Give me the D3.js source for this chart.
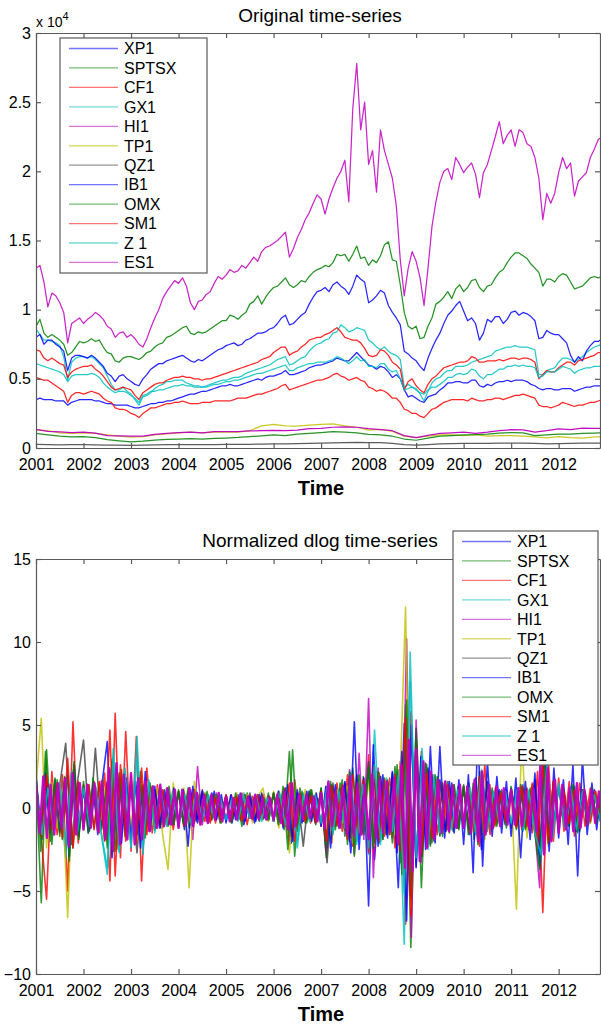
<!DOCTYPE html>
<html>
<head>
<meta charset="utf-8">
<script src="https://cdn.jsdelivr.net/npm/d3@7"></script>
<style>
  body { margin: 0; background: #fff; }
  svg text { font-family: "Liberation Sans", Arial, Helvetica, sans-serif; fill: #000; }
</style>
</head>
<body>
<div id="chart"></div>
<script>
// series names and colours (MATLAB colour order, cycling)
const seriesNames = ["XP1", "SPTSX", "CF1", "GX1", "HI1", "TP1", "QZ1", "IB1", "OMX", "SM1", "Z 1", "ES1"];
const seriesColors = ["#0000ff", "#008000", "#ff0000", "#00bfbf", "#bf00bf", "#bfbf00", "#404040",
                      "#0000ff", "#008000", "#ff0000", "#00bfbf", "#bf00bf"];
const yearTicks = [2001, 2002, 2003, 2004, 2005, 2006, 2007, 2008, 2009, 2010, 2011, 2012];
const levelTicks = [0, 5000, 10000, 15000, 20000, 25000, 30000];
const dlogTicks = [-10, -5, 0, 5, 10, 15];

// ---- original levels (monthly from Jan 2001, or quarterly) ----
const levelXP1 = [
  3500, 3600, 3500, 3500, 3500, 3400, 3400, 3400, 3100, 3300, 3400, 3500,
  3500, 3500, 3500, 3400, 3400, 3300, 3200, 3200, 3100, 3100, 3100, 3100,
  3000, 2900, 2900, 3000, 3100, 3200, 3200, 3300, 3300, 3400, 3400, 3500,
  3600, 3700, 3800, 3900, 3900, 4000, 4100, 4100, 4200, 4300, 4400, 4500,
  4500, 4600, 4500, 4500, 4600, 4700, 4800, 4900, 5000, 4900, 5100, 5200,
  5200, 5300, 5400, 5600, 5300, 5300, 5400, 5500, 5600, 5800, 5900, 6000,
  6000, 6100, 6200, 6300, 6500, 6400, 6300, 6300, 6600, 6900, 6600, 6300,
  6000, 5900, 5700, 5900, 5800, 5500, 5100, 5300, 5000, 4200, 3700, 3800,
  3600, 3400, 3300, 3700, 3800, 3900, 4200, 4400, 4700, 4700, 4800, 4800,
  4700, 4700, 4900, 4900, 4500, 4400, 4600, 4500, 4700, 4800, 4800, 4900,
  4800, 4900, 4900, 4900, 4800, 4600, 4500, 4300, 4200, 4300, 4300, 4200,
  4200, 4300, 4300, 4300, 4100, 4200, 4300, 4400, 4400, 4500, 4500, 4500];
const levelSPTSX = [
  8800, 9300, 8300, 8000, 8200, 8000, 7800, 7500, 6700, 6900, 7300, 7700,
  7600, 7700, 7900, 7700, 7800, 7300, 6900, 6800, 6300, 6200, 6500, 6600,
  6600, 6500, 6400, 6600, 6900, 7000, 7300, 7500, 7600, 8000, 8100, 8300,
  8500, 8700, 8800, 8300, 8200, 8400, 8300, 8400, 8600, 8800, 9000, 9200,
  9200, 9600, 9500, 9300, 9600, 9800, 10400, 10600, 11000, 10400, 10900, 11300,
  11600, 11700, 12000, 12300, 11800, 11600, 11800, 12100, 12000, 12400, 12700, 12900,
  13000, 13200, 13100, 13400, 14000, 13900, 14000, 13500, 14000, 14600, 13700, 13800,
  13200, 13600, 13400, 13900, 14700, 14900, 13600, 13500, 11800, 9800, 8800, 8600,
  8800, 7900, 8000, 8800, 9400, 10400, 10600, 10900, 11300, 10800, 11500, 11800,
  11300, 11600, 12100, 12200, 11600, 11300, 11700, 11800, 12300, 12700, 12900, 13400,
  13800, 14100, 14100, 13900, 13700, 13300, 13000, 12700, 11700, 12200, 12200, 12000,
  12400, 12600, 12500, 12000, 11500, 11600, 11700, 12000, 12300, 12400, 12300, 12400];
const levelCF1 = [
  5100, 5000, 4900, 4900, 4700, 4500, 4300, 4100, 3300, 3800, 4000, 4000,
  3900, 4000, 4100, 4000, 3900, 3600, 3400, 3300, 2900, 2800, 2800, 2700,
  2500, 2400, 2200, 2500, 2700, 2900, 2900, 3000, 3100, 3200, 3200, 3300,
  3300, 3400, 3300, 3200, 3200, 3200, 3300, 3300, 3300, 3400, 3400, 3400,
  3400, 3400, 3500, 3600, 3600, 3600, 3700, 3800, 3900, 3900, 4000, 4100,
  4200, 4300, 4500, 4600, 4200, 4300, 4400, 4500, 4600, 4700, 4800, 4900,
  4900, 5000, 5100, 5300, 5400, 5200, 5100, 4900, 5000, 5100, 4900, 4800,
  4400, 4300, 4100, 4200, 4100, 3900, 3600, 3600, 3300, 2800, 2700, 2500,
  2500, 2300, 2200, 2500, 2800, 2900, 3100, 3300, 3400, 3500, 3500, 3500,
  3500, 3400, 3600, 3500, 3400, 3400, 3500, 3500, 3600, 3600, 3500, 3600,
  3700, 3800, 3800, 3900, 3800, 3700, 3600, 3100, 3000, 3000, 2900, 3000,
  3100, 3300, 3200, 3100, 3000, 3100, 3100, 3200, 3300, 3300, 3400, 3500];
const levelGX1 = [
  8600, 8200, 7800, 7800, 7700, 7600, 7400, 6600, 4900, 6200, 6500, 6600,
  6600, 6500, 6600, 6400, 6100, 5800, 5200, 4600, 4200, 4200, 4400, 4100,
  3900, 3500, 3100, 3700, 3800, 4000, 4300, 4500, 4600, 4800, 4800, 4900,
  4900, 4900, 4700, 4600, 4500, 4500, 4400, 4500, 4600, 4700, 4800, 4900,
  4900, 5000, 5100, 5100, 5200, 5400, 5500, 5600, 5700, 5800, 5900, 6000,
  6200, 6400, 6500, 6600, 6000, 6100, 6300, 6500, 6600, 7000, 7300, 7500,
  7600, 7800, 7900, 8300, 8400, 8900, 8700, 8400, 8500, 8700, 8600, 8500,
  7800, 7600, 7300, 7100, 7300, 7000, 6800, 6700, 6400, 4400, 4600, 4400,
  4300, 3900, 3400, 4100, 4700, 5000, 5100, 5400, 5600, 5600, 5900, 5900,
  5900, 6000, 6200, 6300, 6400, 6500, 6600, 6700, 7000, 7100, 7200, 7300,
  7300, 7400, 7300, 7300, 7300, 7200, 7100, 5300, 5300, 5600, 5700, 5800,
  6200, 6500, 6500, 6400, 6200, 6400, 6600, 6900, 7100, 7300, 7400, 7500];
const levelHI1 = [
  13000, 13200, 12000, 10200, 11200, 11000, 10500, 9800, 7600, 9000, 9200, 9400,
  9000, 9300, 9500, 9800, 9600, 9300, 8800, 8600, 8000, 8300, 8400, 8000,
  8200, 7900, 7500, 7300, 7900, 8700, 9400, 10000, 10800, 11300, 11700, 12100,
  11900, 12300, 11700, 10500, 10000, 10600, 10700, 11100, 11300, 11900, 12400, 12200,
  12500, 12900, 12700, 12800, 13200, 13000, 13400, 13800, 13500, 14200, 14500, 14600,
  14800, 15000, 15300, 15600, 13800, 14400, 15200, 15800, 16500, 17000, 17700, 18300,
  18000, 16900, 18000, 18800, 19500, 20000, 20800, 17800, 24500, 27800, 23000, 25000,
  20500, 21500, 18500, 23000, 21500, 20500, 19500, 17500, 13600, 11000, 13000, 14200,
  13500, 12300, 10300, 13000, 16000, 17800, 19200, 20000, 20200, 19400, 21000, 20500,
  19900, 20300, 20600, 19800, 18100, 19900, 20500, 21500, 22500, 23600, 22000, 22600,
  23000, 21800, 23000, 22800, 22000, 21800, 21000, 19500, 16500, 18400, 17700, 18400,
  19900, 21000, 20200, 20600, 18200, 19300, 19600, 19900, 21000, 21600, 22300, 22500];
const levelTP1 = [
  1300, 1250, 1100, 1050, 1100, 1050, 950, 850, 780, 820, 950, 1020,
  1100, 1150, 1100, 1150, 1150, 1150, 1250, 1600, 1700, 1600, 1580, 1650,
  1700, 1750, 1600, 1500, 1300, 1350, 1200, 850, 750, 850, 950, 950,
  900, 960, 850, 900, 900, 850, 800, 740, 820, 750, 720, 800, 820];
const levelQZ1 = [
  270, 250, 230, 240, 240, 230, 210, 200, 190, 200, 220, 240,
  250, 250, 240, 250, 260, 260, 270, 280, 290, 290, 310, 330,
  350, 370, 380, 400, 390, 380, 340, 250, 200, 250, 300, 320,
  330, 330, 340, 360, 360, 350, 330, 300, 320, 340, 350, 360, 360];
const levelIB1 = [
  8000, 8200, 7500, 7800, 7800, 7500, 7300, 7000, 5600, 6500, 6700, 6700,
  6600, 6500, 6700, 6500, 6200, 5900, 5400, 5200, 4800, 5200, 5300, 5000,
  4800, 4600, 4500, 5000, 5300, 5700, 5900, 6100, 6100, 6300, 6400, 6500,
  6600, 6700, 6500, 6300, 6200, 6400, 6300, 6500, 6700, 6900, 7100, 7200,
  7400, 7500, 7600, 7400, 7500, 7800, 7900, 8100, 8300, 8300, 8400, 8600,
  8700, 9000, 9400, 9600, 8900, 9000, 9300, 9600, 9800, 10400, 10900, 11300,
  11400, 11600, 11300, 11800, 12000, 11700, 11500, 11100, 11700, 12500, 12200, 12000,
  10500, 10700, 11000, 11400, 11200, 10300, 9800, 9400, 8900, 7000, 6800, 6500,
  6300, 5900, 5600, 6500, 7200, 7800, 8300, 9000, 9600, 9900, 10300, 10600,
  9900, 9200, 9400, 9000, 7800, 8300, 9300, 9100, 9500, 9500, 9000, 9300,
  9800, 9900, 9600, 9800, 9700, 9500, 9200, 7900, 8000, 8500, 8300, 8200,
  8200, 7900, 7600, 6700, 6200, 6600, 6300, 7000, 7400, 7700, 7700, 7900];
const levelOMX = [
  1050, 950, 850, 800, 820, 750, 600, 520, 450, 500, 570, 620,
  650, 670, 640, 690, 720, 760, 820, 880, 950, 900, 1000, 1060,
  1120, 1180, 1150, 1100, 980, 950, 850, 650, 560, 720, 850, 900,
  950, 960, 1000, 1080, 1120, 1100, 900, 950, 1000, 1000, 1050, 1080, 1090];
const levelSM1 = [
  7100, 7000, 6500, 6300, 6500, 6300, 6100, 6000, 5100, 5500, 5700, 5800,
  5900, 5900, 6000, 5700, 5500, 5200, 4800, 4400, 4200, 4300, 4400, 4300,
  4200, 3800, 3500, 4000, 4200, 4400, 4600, 4700, 4700, 4900, 5000, 5100,
  5100, 5200, 5100, 5100, 5000, 5000, 4900, 5000, 5000, 5100, 5200, 5300,
  5400, 5500, 5600, 5700, 5800, 5900, 6000, 6100, 6200, 6400, 6500, 6600,
  6900, 7100, 7300, 7300, 6700, 6900, 7000, 7300, 7500, 7800, 7900, 8000,
  8000, 8200, 8300, 8500, 8700, 8400, 8000, 7900, 7800, 7800, 7600, 7200,
  6700, 6600, 6700, 7100, 7000, 6700, 6200, 6000, 5700, 4200, 4800, 5000,
  4500, 4200, 4000, 4600, 5000, 5200, 5500, 5800, 5900, 6000, 6100, 6200,
  6200, 6300, 6600, 6500, 6200, 6200, 6300, 6300, 6300, 6400, 6300, 6400,
  6500, 6500, 6400, 6500, 6500, 6400, 6200, 5000, 5300, 5600, 5500, 5500,
  5800, 6000, 6200, 6200, 6000, 6300, 6400, 6500, 6600, 6700, 6900, 6900];
const levelZ1 = [
  6100, 6000, 5900, 5800, 5700, 5600, 5500, 5300, 4800, 5200, 5300, 5300,
  5300, 5300, 5400, 5300, 5100, 4700, 4400, 4200, 4000, 4100, 4100, 4000,
  3800, 3600, 3300, 3800, 3900, 4100, 4100, 4200, 4200, 4300, 4400, 4500,
  4500, 4600, 4500, 4500, 4400, 4400, 4400, 4400, 4500, 4600, 4600, 4700,
  4800, 4800, 4900, 4900, 5000, 5100, 5200, 5300, 5400, 5400, 5500, 5600,
  5700, 5800, 5900, 6000, 5600, 5600, 5800, 5900, 6000, 6100, 6100, 6200,
  6200, 6200, 6300, 6400, 6600, 6500, 6300, 6100, 6300, 6600, 6300, 6400,
  5900, 5900, 5800, 6100, 6100, 5700, 5500, 5600, 5000, 4200, 4300, 4400,
  4200, 4000, 3900, 4200, 4400, 4400, 4600, 4800, 5100, 5100, 5300, 5400,
  5300, 5400, 5700, 5600, 5200, 5000, 5300, 5300, 5500, 5700, 5700, 5900,
  5900, 6000, 5900, 6000, 5900, 5900, 5800, 5100, 5200, 5500, 5500, 5500,
  5700, 5900, 5800, 5700, 5400, 5600, 5700, 5800, 5800, 5900, 5900, 5900];
const levelES1 = [
  1340, 1200, 1160, 1120, 1140, 1080, 900, 880, 860, 860, 990, 1050,
  1120, 1140, 1100, 1180, 1190, 1180, 1230, 1250, 1280, 1260, 1300, 1400,
  1420, 1500, 1530, 1500, 1400, 1330, 1250, 900, 750, 920, 1050, 1100,
  1150, 1050, 1140, 1250, 1320, 1310, 1150, 1250, 1380, 1330, 1430, 1420, 1420];
const levelPerYear = [12, 12, 12, 12, 12, 4, 4, 12, 4, 12, 12, 4];

// ---- normalized dlog returns, one row per year ----
const dlogXP1 = [
  1.2, -1.5, 0.9, -1.1, 1.4, -2.6, 2.1, -1.3,
  1.0, -0.8, 1.3, -1.2, 1.6, -2.0, 1.4, -1.1,
  1.2, -1.6, 1.1, -0.9, 1.0, -1.2, 0.8, -1.0,
  0.9, -1.3, 1.1, -0.7, 0.8, -0.9, 1.0, -0.6,
  0.7, -0.9, 0.8, -1.0, 0.6, -0.8, 0.9, -0.7,
  0.8, -0.7, 1.2, -2.1, 0.9, -0.8, 1.0, -0.9,
  1.1, -2.4, 1.3, -1.0, 1.6, -2.7, 2.0, -1.5,
  2.3, -3.1, 1.9, -1.6, 2.2, -4.8, 5.1, -3.6,
  3.0, -2.6, 2.4, -1.8, 1.7, -1.4, 1.5, -1.2,
  1.3, -1.6, 1.8, -2.5, 1.6, -1.2, 1.1, -1.0,
  1.2, -1.0, 1.4, -1.3, 1.7, -3.2, 2.2, -1.5,
  1.3, -1.1, 1.2, -1.4, 1.0, -0.9, 1.1, -0.8];
const dlogSPTSX = [
  1.6, -5.7, 3.5, -2.2, 1.7, -1.9, 2.0, -2.4, 1.5,
  -1.3, 1.4, -1.2, 1.5, -1.9, 2.3, -2.6, 1.8, -1.5,
  1.6, -1.7, 1.3, -1.1, 1.2, -0.9, 1.0, -1.1, 0.8,
  -0.9, 1.0, -1.2, 0.8, -0.7, 0.9, -0.8, 0.7, -0.6,
  0.8, -0.9, 0.7, -1.1, 0.9, -0.6, 0.8, -0.7, 0.9,
  -0.8, 1.0, -1.3, 3.4, -2.9, 1.2, -0.9, 1.1, -1.0,
  1.2, -3.0, 1.4, -1.1, 1.7, -2.2, 2.4, -1.6, 1.9,
  -2.5, 2.0, -2.1, 1.8, -1.6, 2.5, -3.3, 6.2, -8.4,
  4.2, -4.8, 2.6, -2.1, 1.9, -1.7, 1.6, -1.4, 1.3,
  -1.2, 1.5, -1.9, 2.2, -1.4, 1.2, -1.1, 1.0, -0.9,
  1.1, -1.3, 1.0, -1.2, 1.4, -2.8, 3.3, -1.9, 1.5,
  -1.2, 1.0, -1.1, 1.3, -1.4, 1.0, -0.9, 0.8, -0.7];
const dlogCF1 = [
  1.5, -1.8, -5.5, 2.2, -1.6, 2.0, -5.0, 5.2, -2.1,
  1.4, -1.2, 1.6, -1.5, 2.1, -4.4, 5.7, -3.0, 4.6,
  -2.6, 4.3, -4.4, 2.4, -1.5, 1.4, -1.2, 1.1, -1.3,
  1.0, -1.1, 1.2, -0.9, 0.8, -0.8, 0.7, -0.9, 0.6,
  -0.7, 0.8, -0.6, 0.9, -1.0, 0.7, -0.6, 0.8, -0.7,
  0.9, -1.0, 1.2, -2.2, 1.7, -1.0, 0.8, -0.9, 0.8,
  -1.1, 1.3, -2.1, 1.5, -1.4, 2.0, -2.3, 1.7, -1.6,
  3.2, -2.9, 2.1, -1.7, 1.8, -2.4, 2.8, -7.0, 5.8,
  -3.5, 3.4, -2.2, 2.0, -1.6, 1.5, -1.3, 1.4, -1.2,
  1.3, -1.5, 1.2, -2.3, 2.6, -1.6, 1.2, -1.0, 1.1,
  -1.2, 1.0, -1.3, 1.2, -1.5, 2.2, -6.3, 3.1, -2.0,
  1.8, -1.4, 1.6, -1.7, 1.5, -1.1, 1.2, -0.9, 1.0];
const dlogGX1 = [
  1.8, -1.4, 1.6, -1.2, 1.3, -3.0, 2.2, -1.5,
  1.1, -1.3, 1.2, -1.6, -4.0, 3.6, -2.7, 2.4,
  -2.3, 4.3, -2.8, 1.7, -1.5, 1.2, -1.1, 1.0,
  -1.2, 0.9, -0.8, 1.0, -0.7, 0.8, -0.6, 0.7,
  -0.8, 0.6, -0.7, 0.9, -0.6, 0.7, -0.8, 0.6,
  -0.7, 0.9, -1.1, 1.3, -2.4, 0.9, -0.8, 0.7,
  -0.9, 1.2, -1.6, 1.1, -1.3, 2.1, -2.2, 1.5,
  -2.8, 4.7, -2.2, 1.8, -1.5, 2.3, -8.2, 9.4,
  -3.4, 3.6, -2.5, 2.0, -1.6, 1.4, -1.3, 1.2,
  -1.1, 1.3, -1.6, 1.9, -1.2, 1.0, -0.9, 1.1,
  -1.0, 1.2, -1.4, 1.1, -1.6, -3.3, 2.9, -1.8,
  1.5, -1.2, 1.3, -1.4, 1.1, -1.0, 0.9, -0.8];
const dlogHI1 = [
  1.6, -1.3, 1.4, -1.2, 1.1, -1.5, 1.3, -2.5, 1.9, -1.4,
  1.2, -1.0, 1.3, -1.1, 1.4, -1.6, 1.5, -1.3, 1.1, -1.2,
  1.4, -1.0, 1.2, -0.9, 1.3, -1.1, 1.0, -0.9, 0.8, -1.0,
  0.9, -0.8, 1.0, -1.9, 2.5, -1.0, 0.8, -0.7, 0.9, -0.6,
  0.7, -0.8, 0.6, -0.7, 0.8, -0.6, 0.7, -0.6, 0.8, -0.7,
  0.9, -0.8, 1.0, -1.4, 1.2, -0.9, 0.8, -0.7, 0.9, -0.8,
  1.0, -2.6, 1.4, -1.1, 1.2, -1.3, 2.3, -2.8, 3.3, -1.9,
  6.6, -4.2, 2.4, -1.9, 1.6, -1.8, 2.1, -3.2, 10.2, -7.8,
  5.3, -3.3, 2.7, -2.2, 1.8, -1.6, 1.5, -1.3, 1.4, -1.2,
  1.3, -1.1, 1.2, -1.9, 1.7, -1.2, 1.0, -0.9, 1.1, -1.0,
  0.9, -1.1, 1.4, -1.2, 1.0, -1.3, -4.8, 4.4, -2.1, 1.6,
  -1.2, 1.1, -1.0, 1.3, -1.4, 1.1, -0.9, 1.0, -0.8, 0.9];
const dlogTP1 = [
  1.3, 5.4, -2.4, 1.5, -1.2, 1.0, -6.6, 2.3, -1.5,
  1.2, -1.1, 1.4, -1.0, 1.1, -1.3, 1.2, -1.4, 1.0,
  -1.1, 1.3, -1.2, 1.4, -1.0, 1.2, -1.6, -3.7, 1.5,
  -1.1, 1.2, -4.8, 1.6, -1.0, 0.9, -0.8, 0.7, -0.9,
  0.8, -0.7, 0.9, -0.6, 0.8, -0.9, 0.7, 1.2, -0.8,
  1.0, -1.2, 0.9, -2.7, 1.4, -0.9, 1.1, -0.8, 0.9,
  -1.0, 1.2, -2.0, 1.1, -0.9, 1.3, -2.1, 1.6, -1.2,
  1.7, -2.3, 1.5, -1.4, 1.3, -1.6, 2.0, 12.1, -6.0,
  3.2, -2.4, 2.0, -1.5, 1.6, -1.3, 1.2, -1.1, 1.0,
  -0.9, 1.1, -1.0, 1.2, -1.9, 1.4, -1.1, 0.9, -1.0,
  1.1, -6.1, 4.2, -1.8, 1.3, -1.2, 1.5, -2.3, 1.6,
  -1.0, 1.1, -0.9, 1.0, -1.2, 0.8, -0.9, 1.0, -0.8];
const dlogQZ1 = [
  1.3, -1.9, 1.5, -1.2, 1.4, 3.9, -2.2, 1.6,
  4.1, -1.4, 3.6, -1.3, 1.5, -2.6, 2.1, -1.7,
  1.6, -2.7, 1.4, -1.2, 1.1, -1.0, 1.2, -0.9,
  1.0, -1.1, 0.9, -0.8, 1.1, -0.7, 0.8, -0.9,
  0.7, -0.8, 0.6, -0.7, 0.9, -0.6, 0.8, -0.7,
  0.9, -0.8, 1.1, -1.7, 0.9, -2.3, 1.0, -0.8,
  1.1, -3.3, 1.5, -1.2, 1.4, -1.8, 1.9, -1.4,
  2.8, -2.1, 1.9, -1.6, 1.7, -2.2, 3.1, -5.3,
  4.8, -2.9, 2.3, -2.0, 1.6, -1.4, 1.3, -1.2,
  1.1, -1.3, 1.0, -1.6, 1.5, -1.1, 1.0, -0.9,
  1.1, -1.0, 1.2, -1.1, 1.3, -2.4, 2.0, -1.3,
  1.2, -1.0, 0.9, -1.1, 1.0, -0.8, 0.9, -0.7];
const dlogIB1 = [
  1.8, -1.6, 2.1, -1.5, 1.7, -1.4, 1.6, -2.9, 2.6, -1.7,
  1.3, -1.5, 1.4, -1.6, 1.7, 4.0, -3.0, 2.4, -2.1, 1.8,
  -1.9, 1.6, -2.4, 2.2, -1.4, 1.3, -1.2, 1.1, -1.0, 1.2,
  -1.0, 1.1, -2.3, 1.3, -0.9, 1.0, -0.8, 0.9, -0.7, 0.8,
  -0.9, 0.8, -0.7, 0.9, -0.8, 0.7, -0.9, 0.8, -0.6, 0.7,
  -0.8, 1.0, -1.2, 1.4, -2.0, 1.1, -0.9, 1.0, -0.8, 0.9,
  -1.1, 1.3, -2.4, 1.4, -1.2, 1.5, -2.0, 5.2, -2.5, 1.8,
  -5.9, 3.8, -2.3, 2.0, -1.8, 2.1, -2.7, 3.4, -6.8, 5.0,
  -3.6, 3.1, -2.5, 3.7, -2.1, 3.7, -1.8, 1.6, -1.5, 1.7,
  -2.2, 2.0, -3.9, 4.6, -3.5, 2.8, -1.7, 1.9, -1.5, 1.6,
  -1.7, 1.8, -3.0, 1.6, -1.9, 2.1, -3.5, 3.8, -2.6, 2.4,
  -1.8, 1.7, -2.2, 2.6, -4.1, 3.0, -1.6, 1.5, -1.3, 1.2];
const dlogOMX = [
  2.2, -2.6, 3.4, -2.0, 1.8, -1.7, 1.9, -3.2, 2.8, -1.9,
  1.6, -1.5, 1.8, -1.4, 1.7, -2.4, 2.9, -2.5, 2.3, -1.8,
  1.9, -2.0, 2.2, -1.8, 1.5, -1.3, 1.2, -1.1, 1.3, -1.0,
  1.1, -0.9, 1.2, -1.1, 0.9, -0.8, 1.0, -0.7, 0.8, -0.9,
  0.7, -0.8, 0.9, -0.7, 0.8, -0.6, 0.7, -0.8, 0.6, -0.7,
  0.9, -1.0, 1.3, -2.5, 3.5, -1.4, 1.0, -0.9, 1.1, -0.8,
  1.2, -2.2, 1.6, -1.3, 1.5, -1.7, 2.2, -2.9, 2.0, -1.6,
  2.5, -2.4, 2.2, -1.9, 1.7, -2.1, 2.6, -4.0, 6.5, -5.5,
  4.2, -3.2, 2.7, -2.3, 2.0, -1.7, 1.6, -1.5, 1.4, -1.3,
  1.4, -1.6, 1.5, -2.2, 2.0, -1.4, 1.2, -1.1, 1.0, -1.2,
  1.3, -1.1, 1.4, -1.3, 1.2, -1.5, -3.7, 2.8, -2.0, 1.6,
  -1.3, 1.2, -1.1, 1.4, -1.5, 1.1, -1.0, 1.2, -0.9, 1.0];
const dlogSM1 = [
  1.4, -1.7, 2.0, -1.3, 1.5, -1.8, 3.0, -2.4, 1.6,
  -1.2, 1.4, -1.3, 1.6, -2.0, 4.7, -4.1, 2.6, -2.0,
  1.8, -2.1, 2.4, -1.6, 1.3, -1.2, 1.1, -1.0, 0.9,
  -1.0, 0.9, -0.8, 1.1, -0.7, 0.8, -0.9, 0.6, -0.7,
  0.8, -0.6, 0.7, -0.8, 0.6, -0.7, 0.8, -0.6, 0.7,
  -0.8, 0.9, -1.1, 1.5, -2.0, 0.9, -0.8, 0.7, -0.9,
  1.0, -2.0, 1.3, -1.0, 1.4, -1.9, 2.0, -1.6, 1.7,
  -2.7, 2.5, -2.0, 1.7, -1.6, 2.0, -2.6, 5.4, -6.5,
  3.6, -2.8, 2.1, -1.8, 1.5, -1.3, 1.4, -1.2, 1.1,
  -1.0, 1.2, -1.4, 1.9, -1.6, 1.1, -1.0, 0.9, -0.8,
  1.0, -1.2, 1.3, -1.1, 1.5, -2.3, 2.8, -2.1, 1.6,
  -1.2, 1.0, -0.9, 1.1, -1.2, 0.9, -0.8, 1.0, -0.7];
const dlogZ1 = [
  1.4, -1.6, 1.2, -1.3, 1.5, -2.1, 2.0, -1.4,
  1.2, -1.1, 1.3, -1.5, -3.6, 3.1, -2.6, 2.2,
  -2.4, 3.0, -2.2, 1.5, -1.3, 1.1, -1.0, 0.9,
  -1.0, 0.8, -0.9, 1.0, -0.7, 0.8, -0.6, 0.7,
  -0.7, 0.6, -0.8, 0.7, -0.6, 0.8, -0.7, 0.6,
  -0.8, 0.9, -1.0, 1.2, -2.0, 0.8, -0.7, 0.8,
  -0.9, 1.3, -1.5, 1.0, -1.2, 1.9, -2.0, 1.4,
  -2.4, 2.6, -2.0, 1.6, -1.4, 2.0, -5.2, 7.6,
  -3.0, 3.1, -2.2, 1.8, -1.5, 1.3, -1.2, 1.1,
  -1.0, 1.2, -1.5, 2.3, -1.3, 1.0, -0.9, 1.0,
  -0.9, 1.1, -1.3, 1.0, -1.5, -2.8, 2.6, -1.6,
  1.3, -1.1, 1.2, -1.3, 1.0, -0.9, 0.8, -0.7];
const dlogES1 = [
  1.7, -1.5, 1.9, -1.8, 1.4, -1.6, 1.5, -1.2, 1.8, -2.3, 2.1, -1.6, 1.5,
  -1.3, 1.4, -1.2, 1.5, -1.4, 1.6, -1.9, 2.4, -2.5, 2.7, -2.2, 2.0, -1.9,
  2.1, -2.2, 1.8, -1.9, 1.6, -1.4, 1.3, -1.2, 1.4, -1.1, 1.2, -1.0, 1.1,
  -1.2, 1.1, -1.0, 1.2, -1.1, 0.9, -1.0, 0.8, -0.9, 0.8, -0.7, 0.9, -0.8,
  0.7, -0.8, 0.6, -0.7, 0.8, -0.6, 0.7, -0.6, 0.8, -0.7, 0.6, -0.7, 0.6,
  -0.7, 0.8, -0.9, 1.0, -1.3, 1.5, -1.1, 0.8, -0.7, 0.8, -0.6, 0.7, -0.8,
  0.9, -1.2, 1.6, -1.1, 1.0, -1.2, 1.3, -1.6, 1.9, -1.7, 1.5, -1.6, 1.4,
  -1.9, 2.0, -1.8, 1.7, -1.5, 1.6, -1.4, 1.8, -2.1, 2.6, -3.6, 4.1, -3.8,
  3.5, -3.2, 2.8, -2.4, 2.2, -1.9, 1.7, -1.5, 1.6, -1.4, 1.3, -1.2, 1.4,
  -1.2, 1.3, -1.5, 1.7, -2.0, 2.2, -1.6, 1.4, -1.2, 1.3, -1.1, 1.2, -1.0,
  1.1, -1.0, 1.2, -1.1, 1.0, -1.3, 1.2, -1.4, 2.6, -2.8, 2.4, -2.0, 1.7,
  -1.5, 1.4, -1.3, 1.2, -1.4, 1.5, -1.2, 1.1, -1.0, 1.1, -0.9, 1.0, -0.9];
const dlogPerYear = [8, 9, 9, 8, 10, 9, 8, 10, 10, 9, 8, 13];

const levelData = [levelXP1, levelSPTSX, levelCF1, levelGX1, levelHI1, levelTP1,
                   levelQZ1, levelIB1, levelOMX, levelSM1, levelZ1, levelES1];
const dlogData = [dlogXP1, dlogSPTSX, dlogCF1, dlogGX1, dlogHI1, dlogTP1,
                  dlogQZ1, dlogIB1, dlogOMX, dlogSM1, dlogZ1, dlogES1];

const width = 601, height = 1024;
const plotLeft = 36, plotRight = 600;
const axisColor = "#5a5a5a";

const svg = d3.select("#chart").append("svg")
    .attr("width", width)
    .attr("height", height);

// draw one panel: box axes with inward ticks, lines, title, xlabel
function drawPanel(opts) {
    const x = d3.scaleLinear().domain([2001, 2012.87]).range([plotLeft, plotRight]);
    const y = d3.scaleLinear().domain(opts.yDomain).range([opts.bottom, opts.top]);
    const g = svg.append("g");

    g.append("clipPath").attr("id", opts.id)
        .append("rect")
        .attr("x", plotLeft).attr("y", opts.top)
        .attr("width", plotRight - plotLeft).attr("height", opts.bottom - opts.top);

    const lines = g.append("g").attr("clip-path", `url(#${opts.id})`);
    opts.data.forEach(function (vals, k) {
        const perYear = opts.perYear[k];
        const line = d3.line()
            .x((v, i) => x(2001 + i / perYear))
            .y(v => y(v));
        const last = k === opts.data.length - 1;
        lines.append("path")
            .datum(vals)
            .attr("fill", "none")
            .attr("stroke", seriesColors[k])
            .attr("stroke-width", last ? opts.topWidth : opts.lineWidth)
            .attr("stroke-opacity", last ? 0.95 : opts.lineOpacity)
            .attr("stroke-linejoin", "round")
            .attr("d", line);
    });

    // bottom + top axes
    const xb = g.append("g")
        .attr("transform", `translate(0,${opts.bottom})`)
        .call(d3.axisBottom(x).tickValues(yearTicks).tickFormat(d3.format("d"))
            .tickSizeInner(-5).tickSizeOuter(0).tickPadding(11));
    g.append("g")
        .attr("transform", `translate(0,${opts.top})`)
        .call(d3.axisTop(x).tickValues(yearTicks).tickFormat("")
            .tickSizeInner(-5).tickSizeOuter(0));
    // left + right axes
    g.append("g")
        .attr("transform", `translate(${plotLeft},0)`)
        .call(d3.axisLeft(y).tickValues(opts.yTicks).tickFormat(opts.yFormat)
            .tickSizeInner(-5).tickSizeOuter(0).tickPadding(5));
    g.append("g")
        .attr("transform", `translate(${plotRight},0)`)
        .call(d3.axisRight(y).tickValues(opts.yTicks).tickFormat("")
            .tickSizeInner(-5).tickSizeOuter(0));

    g.selectAll(".domain").attr("stroke", axisColor).attr("stroke-width", 1.2);
    g.selectAll(".tick line").attr("stroke", axisColor).attr("stroke-width", 1.2);
    g.selectAll(".tick text").style("font-size", "16px").attr("fill", "#000");
    xb.selectAll(".tick text").attr("dy", "0.71em");

    g.append("text")
        .attr("x", 320).attr("y", opts.titleY)
        .attr("text-anchor", "middle")
        .style("font-size", "19px")
        .text(opts.title);

    g.append("text")
        .attr("x", 321).attr("y", opts.bottom + 47)
        .attr("text-anchor", "middle")
        .style("font-size", "20px")
        .style("font-weight", "bold")
        .text("Time");

    return { x: x, y: y };
}

function drawLegend(lx, ly, lw, lh) {
    const leg = svg.append("g").attr("transform", `translate(${lx},${ly})`);
    leg.append("rect")
        .attr("width", lw).attr("height", lh)
        .attr("fill", "#fff")
        .attr("stroke", axisColor).attr("stroke-width", 1.2);
    seriesNames.forEach(function (name, k) {
        const ry = 10.5 + k * 19.45;
        leg.append("line")
            .attr("x1", 9).attr("x2", 58)
            .attr("y1", ry).attr("y2", ry)
            .attr("stroke", seriesColors[k])
            .attr("stroke-opacity", 0.55)
            .attr("stroke-width", 1.3);
        leg.append("text")
            .attr("x", 64).attr("y", ry)
            .attr("dy", "0.36em")
            .style("font-size", "16px")
            .text(name);
    });
}

// top panel
drawPanel({
    id: "clipTop", top: 33, bottom: 448,
    yDomain: [0, 30000], yTicks: levelTicks,
    yFormat: d => d3.format("~g")(d / 10000),
    data: levelData, perYear: levelPerYear,
    lineWidth: 1.25, topWidth: 1.25, lineOpacity: 0.85,
    title: "Original time-series", titleY: 22
});
svg.append("text")
    .attr("x", 36).attr("y", 27)
    .style("font-size", "14px")
    .text("x 10")
    .append("tspan")
    .attr("dy", "-7")
    .style("font-size", "11px")
    .text("4");
drawLegend(60, 38, 147, 235);

// bottom panel
drawPanel({
    id: "clipBottom", top: 559, bottom: 974,
    yDomain: [-10, 15], yTicks: dlogTicks,
    yFormat: d3.format("d"),
    data: dlogData, perYear: dlogPerYear,
    lineWidth: 1.6, topWidth: 2.4, lineOpacity: 0.8,
    title: "Normalized dlog time-series", titleY: 547
});
drawLegend(453, 531, 145, 234);
</script>
</body>
</html>
